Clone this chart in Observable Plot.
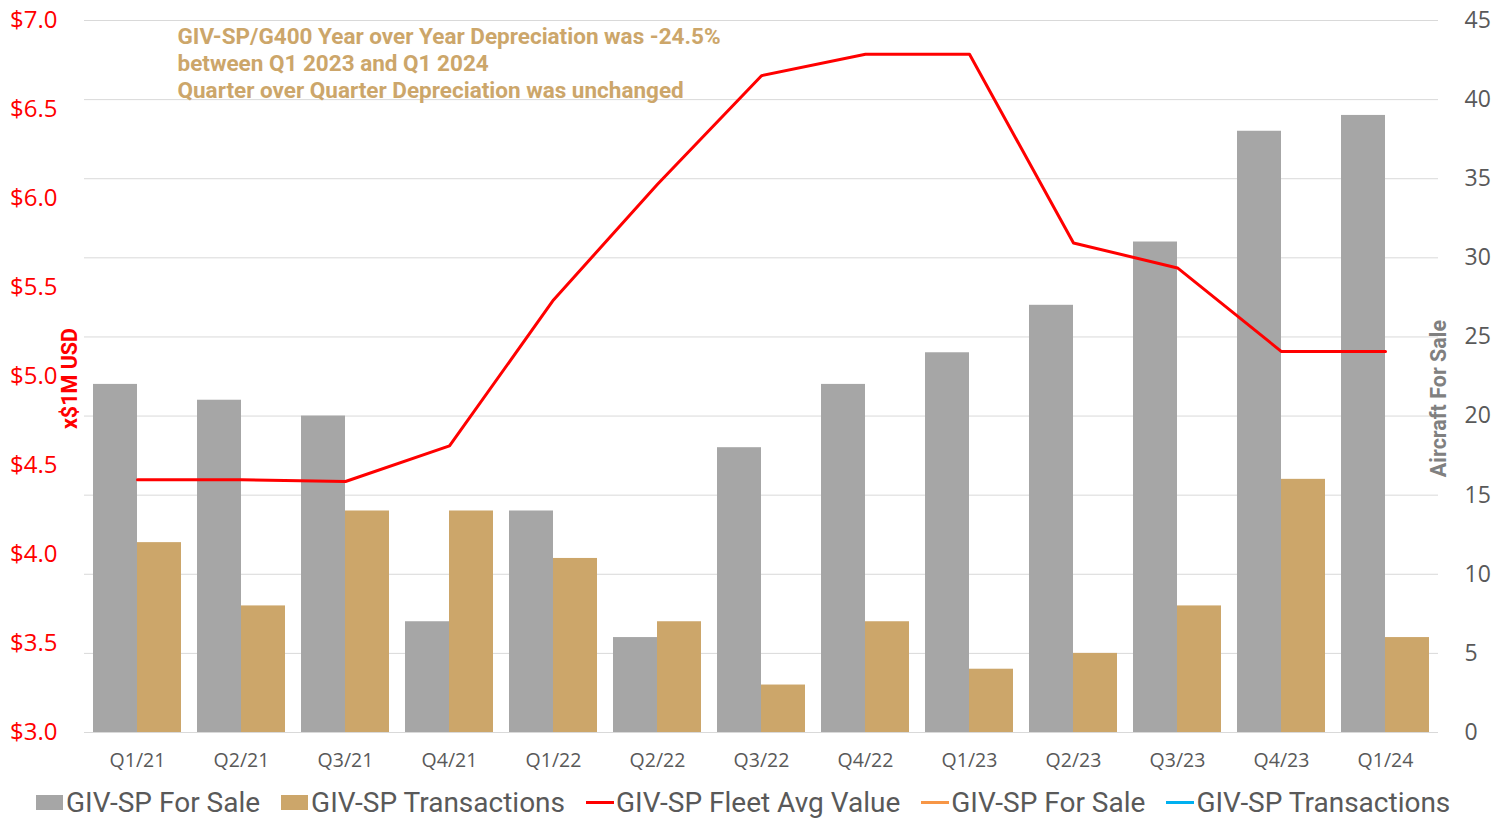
<!DOCTYPE html>
<html>
<head>
<meta charset="utf-8">
<script src="https://cdn.jsdelivr.net/npm/d3@7"></script>
<script src="https://cdn.jsdelivr.net/npm/@observablehq/plot@0.6"></script>
<style>
  body { margin: 0; background: #fff; }
  #wrap { position: relative; width: 1508px; height: 820px; overflow: hidden; }
  #legend { position: absolute; left: 36px; top: 786px; display: flex; align-items: center;
            font-family: Roboto, sans-serif; font-size: 28px; color: #595959; white-space: nowrap; }
  .item { display: flex; align-items: center; margin-right: 21px; }
  .sq { width: 27px; height: 15px; margin-right: 3px; }
  .ln { width: 28px; height: 3px; margin-right: 2px; }
</style>
</head>
<body>
<div id="wrap"><div id="chart"></div><div id="legend"></div></div>
<script>
const quarters = ["Q1/21","Q2/21","Q3/21","Q4/21","Q1/22","Q2/22","Q3/22","Q4/22","Q1/23","Q2/23","Q3/23","Q4/23","Q1/24"];
const forSale = [22, 21, 20, 7, 14, 6, 18, 22, 24, 27, 31, 38, 39];
const transactions = [12, 8, 14, 14, 11, 7, 3, 7, 4, 5, 8, 16, 6];
const fleetAvgValue = [4.42, 4.42, 4.41, 4.61, 5.43, 6.08, 6.69, 6.81, 6.81, 5.75, 5.61, 5.14, 5.14];
const leftTicks = [3.0, 3.5, 4.0, 4.5, 5.0, 5.5, 6.0, 6.5, 7.0];
const rightTicks = [0, 5, 10, 15, 20, 25, 30, 35, 40, 45];
const annotation = ["GIV-SP/G400 Year over Year Depreciation was -24.5%", "between Q1 2023 and Q1 2024", "Quarter over Quarter Depreciation was unchanged"];
const legendItems = [
  {name: "GIV-SP For Sale", color: "#a6a6a6", kind: "sq"},
  {name: "GIV-SP Transactions", color: "#cca66a", kind: "sq"},
  {name: "GIV-SP Fleet Avg Value", color: "#ff0000", kind: "ln"},
  {name: "GIV-SP For Sale", color: "#f79646", kind: "ln"},
  {name: "GIV-SP Transactions", color: "#00b0f0", kind: "ln"}
];

const leftMin = 3, leftMax = 7, rightMax = 45;
const toRight = v => (v - leftMin) * rightMax / (leftMax - leftMin);
const fromRight = r => leftMin + r * (leftMax - leftMin) / rightMax;

const data = quarters.map((q, i) => ({q, forSale: forSale[i], transactions: transactions[i], value: fleetAvgValue[i]}));

const chart = Plot.plot({
  width: 1508,
  height: 785,
  marginTop: 20,
  marginBottom: 53,
  marginLeft: 84,
  marginRight: 70,
  style: {fontFamily: "'Open Sans', sans-serif", background: "#fff"},
  x: {type: "band", domain: quarters, padding: 0},
  y: {domain: [0, rightMax]},
  marks: [
    Plot.gridY(rightTicks, {stroke: "#d9d9d9", strokeOpacity: 1, strokeWidth: 1}),
    Plot.barY(data, {x: "q", y: "forSale", fill: "#a6a6a6", insetLeft: 8, insetRight: 52}),
    Plot.barY(data, {x: "q", y: "transactions", fill: "#cca66a", insetLeft: 52, insetRight: 8}),
    Plot.lineY(data, {x: "q", y: d => toRight(d.value), stroke: "#ff0000", strokeWidth: 3}),
    Plot.axisX({tickSize: 0, tickPadding: 21, fontSize: 19.5, fill: "#595959", label: null}),
    Plot.axisY(leftTicks.map(toRight), {anchor: "left", tickSize: 0, tickPadding: 27, fontSize: 24, fill: "#ff0000",
      tickFormat: d => "$" + fromRight(d).toFixed(1), label: null}),
    Plot.axisY(rightTicks, {anchor: "right", tickSize: 0, tickPadding: 26, fontSize: 23, fill: "#595959", label: null}),
    Plot.text([annotation.join("\n")], {frameAnchor: "top-left", dx: 93, dy: 4, textAnchor: "start", lineAnchor: "top",
      fill: "#cca66a", fontSize: 22.5, fontWeight: "bold", fontFamily: "Roboto", lineHeight: 1.2}),
    Plot.text(["x$1M USD"], {frameAnchor: "left", textAnchor: "middle", dx: -14, dy: 2, rotate: -90, fill: "#ff0000", fontSize: 21.5,
      fontWeight: "bold", fontFamily: "Roboto"}),
    Plot.text(["Aircraft For Sale"], {frameAnchor: "right", textAnchor: "middle", dx: 1, dy: 22, rotate: -90, fill: "#808080", fontSize: 21.5,
      fontWeight: "bold", fontFamily: "Roboto"})
  ]
});
document.getElementById("chart").appendChild(chart);

const legend = d3.select("#legend");
for (const it of legendItems) {
  const el = legend.append("div").attr("class", "item");
  el.append("div").attr("class", it.kind).style("background", it.color);
  el.append("span").text(it.name);
}
</script>
</body>
</html>
